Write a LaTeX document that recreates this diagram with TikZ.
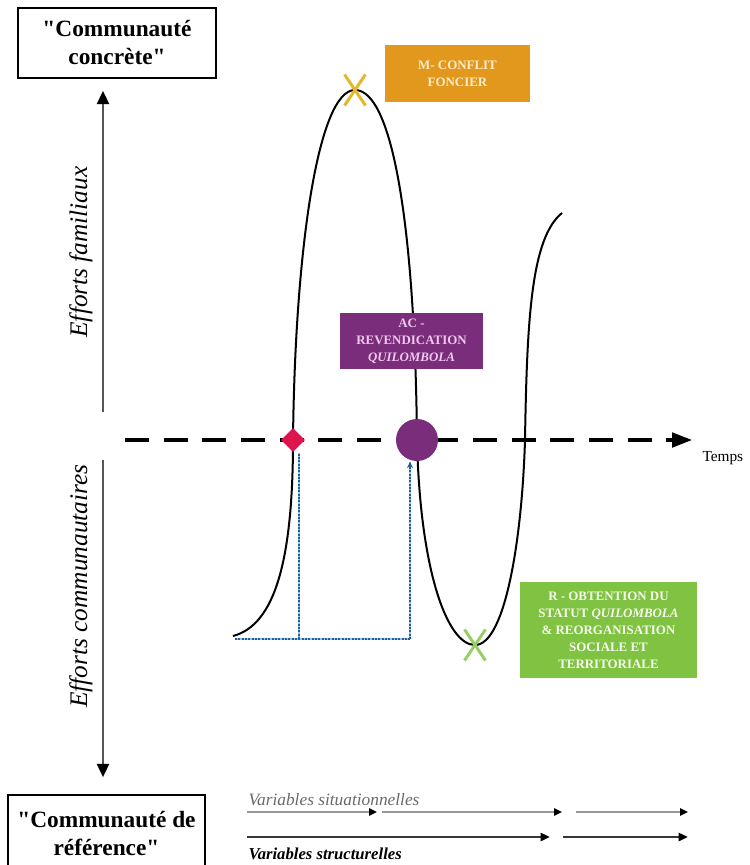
\documentclass[tikz,border=0pt]{standalone}
\usepackage{fontspec}
\setmainfont{Liberation Serif}[Ligatures=TeXOff]
\usetikzlibrary{arrows.meta,shapes.geometric,shapes.misc}

\tikzset{every picture/.style={line width=0.75pt}}
\tikzset{
  boitecom/.style={draw, line width=1.2pt, align=center, inner sep=0.75pt, font=\bfseries\fontsize{17.5}{21}\selectfont},
  etiq/.style={align=center, inner sep=0.75pt, font=\bfseries\fontsize{9.7}{12.8}\selectfont},
  lateral/.style={inner sep=0.75pt, font=\itshape\fontsize{19}{22}\selectfont},
  fleche/.style={draw={rgb, 255:red, 85; green, 85; blue, 85 }, line width=1.8pt, -{Triangle[length=10pt,width=9pt,color=black]}},
  courbe/.style={line width=1.5pt},
  axe/.style={line width=2.3pt, dash pattern=on 18pt off 11pt, -{Triangle[length=15pt,width=11pt]}},
  pointil/.style={preaction={draw={rgb, 255:red, 150; green, 200; blue, 235 }, line width=2pt, solid, arrows=-}, draw={rgb, 255:red, 35; green, 95; blue, 150 }, line width=1.8pt, dash pattern=on 1.4pt off 1.1pt},
  losange/.style={diamond, fill={rgb, 255:red, 222; green, 20; blue, 78 }, minimum size=18pt, inner sep=0pt},
  rond/.style={circle, fill={rgb, 255:red, 122; green, 45; blue, 122 }, minimum size=31.5pt, inner sep=0pt},
  croix/.style={cross out, line width=2.2pt, minimum width=13.5pt, minimum height=21pt, inner sep=0pt},
  varsit/.style={line width=1.9pt, draw={rgb, 255:red, 150; green, 150; blue, 150 }, -{Triangle[length=6pt,width=5.5pt,color=black]}},
  varstr/.style={line width=2.2pt, draw={rgb, 255:red, 55; green, 55; blue, 55 }, -{Triangle[length=7pt,width=6pt,color=black]}}
}

\begin{document}
\begin{tikzpicture}[x=0.75pt,y=0.75pt,yscale=-1,xscale=1]
\useasboundingbox (0,0) rectangle (750,865);

%Curve Lines
\draw [courbe] (233,636) .. controls (275,625) and (293,560) .. (293,440) .. controls (295,250) and (318,90) .. (355,90) .. controls (393,90) and (415,230) .. (417,440) .. controls (420,570) and (447,645) .. (475,645) .. controls (505,645) and (522,540) .. (525,440) .. controls (527,320) and (531,238) .. (562,213) ;

%Straight Lines: axe du temps
\coordinate (t0) at (125,440);
\coordinate (t1) at (692,440);
\draw [axe] (t0) -- (t1) ;

%Shape: Diamond
\node [losange] (pdep) at (293,440) {};
%Shape: Circle
\node [rond] (prev) at (417,440) {};

%Straight Lines: pointilles
\coordinate (pb0) at (235,639);
\coordinate (pb1) at (299,639);
\coordinate (pb2) at (410,639);
\draw [pointil] (pb0) -- (pb2) ;
\draw [pointil] (pb1) -- (pb1 |- pdep.south) ;
\draw [pointil, -{Stealth[length=5pt,width=4.5pt]}] (pb2) -- (pb2 |- prev.south) ;

%Shape: Cross
\node [croix, draw={rgb, 255:red, 228; green, 182; blue, 40 }] (xmax) at (355,90) {};
\node [croix, draw={rgb, 255:red, 150; green, 205; blue, 100 }] (xmin) at (475,645) {};

%Shape: Rectangle
\node [etiq, fill={rgb, 255:red, 226; green, 152; blue, 28 }, text={rgb, 255:red, 255; green, 236; blue, 205 }, minimum width=108.75pt, minimum height=42.75pt] (mconf) at (457.5,73.5) {M- CONFLIT\\FONCIER};
%Shape: Rectangle
\node [etiq, fill={rgb, 255:red, 122; green, 45; blue, 122 }, text={rgb, 255:red, 240; green, 200; blue, 240 }, minimum width=107.25pt, minimum height=42pt] (acrev) at (411.5,341) {AC -\\REVENDICATION\\\textit{QUILOMBOLA}};
%Shape: Rectangle
\node [etiq, fill={rgb, 255:red, 128; green, 194; blue, 66 }, text={rgb, 255:red, 245; green, 252; blue, 235 }, minimum width=132.75pt, minimum height=72pt] (robt) at (608.5,630) {R - OBTENTION DU\\STATUT \textit{QUILOMBOLA}\\\& REORGANISATION\\SOCIALE ET\\TERRITORIALE};

% Text Node
\node [boitecom, minimum width=148.5pt, minimum height=52.5pt] (cconc) at (117,43) {"Communauté\\concrète"};
% Text Node
\node [boitecom, minimum width=147.75pt, minimum height=57pt] (cref) at (106.5,833) {"Communauté de\\référence"};

%Straight Lines: efforts
\coordinate (fa) at (103,412);
\coordinate (fb) at (103,460);
\draw [fleche, shorten >=9pt] (fa) -- (fa |- cconc.south) ;
\draw [fleche, shorten >=12.75pt] (fb) -- (fb |- cref.north) ;

% Text Node
\node [lateral, rotate=90] (efam) at (81,252) {Efforts familiaux};
% Text Node
\node [lateral, rotate=90] (ecom) at (81,586) {Efforts communautaires};
% Text Node
\node [anchor=base west, inner sep=0.75pt, font=\fontsize{11.5}{13}\selectfont] (tps) at (701,461) {Temps};

%Straight Lines: variables
\coordinate (sa0) at (247,812);
\coordinate (sa1) at (377,812);
\coordinate (sb0) at (382,812);
\coordinate (sb1) at (562,812);
\coordinate (sc0) at (576,812);
\coordinate (sc1) at (688,812);
\draw [varsit] (sa0) -- (sa1) ;
\draw [varsit] (sb0) -- (sb1) ;
\draw [varsit] (sc0) -- (sc1) ;
\coordinate (ta0) at (247,837);
\coordinate (ta1) at (550,837);
\coordinate (tb0) at (563,837);
\coordinate (tb1) at (688,837);
\draw [varstr] (ta0) -- (ta1) ;
\draw [varstr] (tb0) -- (tb1) ;

% Text Node
\node [anchor=base west, inner sep=0.75pt, font=\itshape\fontsize{13}{15}\selectfont, text={rgb, 255:red, 105; green, 105; blue, 105 }] (vsit) at (247,805) {Variables situationnelles};
% Text Node
\node [anchor=base west, inner sep=0.75pt, font=\bfseries\itshape\fontsize{12.5}{15}\selectfont] (vstr) at (247,859) {Variables structurelles};

\end{tikzpicture}
\end{document}
